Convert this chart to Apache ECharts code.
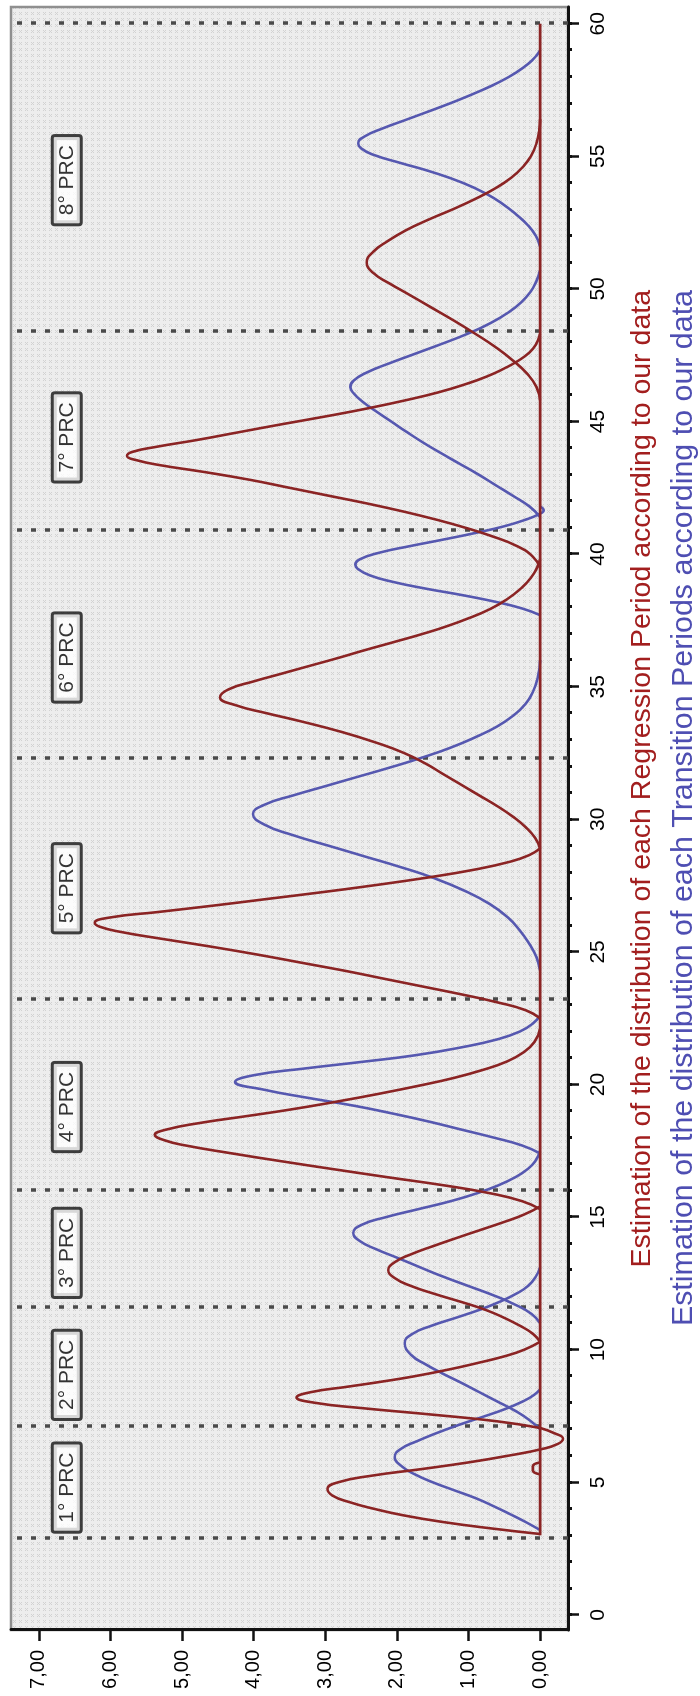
<!DOCTYPE html>
<html><head><meta charset="utf-8">
<script src="https://cdn.jsdelivr.net/npm/echarts@6/dist/echarts.min.js"></script>
<style>
html,body{margin:0;padding:0;background:#fff;width:700px;height:1696px;overflow:hidden}
#wrap{position:absolute;left:0;top:1696px;width:1696px;height:700px;transform-origin:0 0;transform:rotate(-90deg)}
#chart{width:1696px;height:700px}
</style></head><body>
<div id="wrap"><div id="chart"></div></div>
<script>
// ---- tick labels ----
const tMajorTicks = [0,5,10,15,20,25,30,35,40,45,50,55,60];
const tMinorTicks = [0,1,2,3,4,5,6,7,8,9,10,11,12,13,14,15,16,17,18,19,20,21,22,23,24,25,26,27,28,29,30,31,32,33,34,35,36,37,38,39,40,41,42,43,44,45,46,47,48,49,50,51,52,53,54,55,56,57,58,59,60];
const valueTicks = [0,1,2,3,4,5,6,7];

// ---- period boundaries (dotted lines) and labels ----
const periodBounds = [2.9, 7.1, 11.6, 16.0, 23.2, 32.3, 40.9, 48.4, 60];
const prcLabels = ['1° PRC','2° PRC','3° PRC','4° PRC','5° PRC','6° PRC','7° PRC','8° PRC'];
const prcCenters = [4.8, 9.05, 13.65, 19.15, 27.4, 36.1, 44.4, 54.1];

// ---- legend texts ----
const legendRegression = 'Estimation of the distribution of each Regression Period according to our data';
const legendTransition = 'Estimation of the distribution of each Transition Periods according to our data';

// ---- Regression period densities [t, value] ----
const regression1 = [[3.05,0],[3.25,0.65],[3.5,1.35],[3.75,1.9],[4.0,2.32],[4.25,2.66],[4.5,2.9],[4.75,2.97],[5.0,2.82],[5.25,2.35],[5.5,1.65],[5.75,1.0],[6.0,0.45],[6.25,-0.02],[6.45,-0.25],[6.65,-0.32],[6.85,-0.2],[7.05,0]];
const regression1Wiggle = [[5.3,0],[5.45,0.1],[5.6,0.1],[5.75,0]];
const regression2 = [[7.05,0],[7.3,0.6],[7.55,1.5],[7.8,2.5],[8.0,3.15],[8.2,3.4],[8.4,3.2],[8.6,2.7],[8.8,2.2],[9.0,1.75],[9.25,1.28],[9.5,0.87],[9.75,0.5],[10.0,0.22],[10.3,0]];
const regression3 = [[10.3,0],[10.6,0.1],[10.9,0.28],[11.2,0.5],[11.5,0.76],[11.8,1.1],[12.1,1.47],[12.4,1.8],[12.7,2.03],[13.0,2.12],[13.3,2.03],[13.6,1.8],[13.9,1.5],[14.2,1.18],[14.5,0.85],[14.8,0.52],[15.1,0.22],[15.4,0]];
const regression4 = [[15.3,0],[15.6,0.25],[15.9,0.7],[16.2,1.35],[16.5,2.12],[16.8,2.87],[17.1,3.6],[17.4,4.3],[17.7,4.95],[17.9,5.25],[18.1,5.38],[18.3,5.22],[18.55,4.75],[18.8,4.12],[19.05,3.5],[19.35,2.85],[19.65,2.25],[19.95,1.7],[20.25,1.2],[20.55,0.8],[20.85,0.48],[21.2,0.24],[21.6,0.08],[22.1,0]];
const regression5 = [[22.5,0],[22.8,0.2],[23.1,0.6],[23.4,1.1],[23.7,1.65],[24.0,2.2],[24.3,2.75],[24.6,3.35],[24.9,3.95],[25.2,4.6],[25.5,5.3],[25.75,5.85],[25.95,6.15],[26.1,6.22],[26.3,6.0],[26.5,5.35],[26.75,4.55],[27.0,3.8],[27.25,3.05],[27.5,2.35],[27.8,1.58],[28.1,0.92],[28.4,0.42],[28.65,0.15],[28.9,0]];
const regression6 = [[28.9,0],[29.3,0.07],[29.7,0.2],[30.1,0.38],[30.5,0.6],[30.9,0.85],[31.3,1.1],[31.7,1.35],[32.1,1.6],[32.5,1.9],[32.9,2.3],[33.3,2.78],[33.7,3.35],[34.0,3.82],[34.3,4.25],[34.6,4.47],[34.9,4.35],[35.2,4.0],[35.5,3.6],[35.8,3.2],[36.1,2.8],[36.4,2.42],[36.7,2.02],[37.0,1.63],[37.3,1.28],[37.6,0.98],[37.9,0.72],[38.3,0.46],[38.7,0.27],[39.1,0.13],[39.5,0.04],[39.8,0]];
const regression7 = [[39.5,0],[39.9,0.1],[40.3,0.32],[40.7,0.7],[41.0,1.05],[41.3,1.45],[41.6,1.9],[41.9,2.4],[42.2,2.95],[42.5,3.5],[42.8,4.05],[43.1,4.7],[43.35,5.3],[43.55,5.65],[43.7,5.77],[43.85,5.7],[44.05,5.35],[44.3,4.8],[44.6,4.2],[44.9,3.6],[45.2,2.98],[45.5,2.4],[45.8,1.88],[46.1,1.42],[46.4,1.05],[46.7,0.74],[47.0,0.5],[47.3,0.3],[47.6,0.15],[47.9,0.06],[48.3,0]];
const regression8 = [[45.8,0],[46.3,0.05],[46.8,0.18],[47.3,0.38],[47.8,0.62],[48.3,0.9],[48.8,1.2],[49.3,1.52],[49.8,1.84],[50.2,2.1],[50.6,2.33],[51.0,2.42],[51.4,2.33],[51.8,2.13],[52.2,1.88],[52.6,1.57],[53.0,1.22],[53.4,0.9],[53.8,0.62],[54.2,0.4],[54.6,0.24],[55.0,0.13],[55.5,0.05],[56.0,0.01],[56.4,0]];
const regressionBaseline = [[3.0,0],[60,0]];

// ---- Transition period densities [t, value] ----
const transition1 = [[3.2,0],[3.5,0.2],[3.8,0.42],[4.1,0.65],[4.4,0.9],[4.7,1.2],[5.0,1.5],[5.3,1.75],[5.6,1.93],[5.95,2.03],[6.25,1.95],[6.55,1.72],[6.85,1.45],[7.15,1.15],[7.45,0.82],[7.75,0.5],[8.05,0.24],[8.3,0.08],[8.5,0]];
const transition2 = [[7.0,0],[7.35,0.15],[7.7,0.35],[8.05,0.6],[8.4,0.85],[8.75,1.1],[9.1,1.36],[9.45,1.6],[9.8,1.8],[10.25,1.89],[10.6,1.78],[10.9,1.52],[11.2,1.18],[11.5,0.85],[11.8,0.57],[12.1,0.34],[12.4,0.17],[12.75,0.06],[13.1,0]];
const transition3 = [[11.0,0],[11.35,0.12],[11.7,0.35],[12.05,0.65],[12.4,1.0],[12.75,1.35],[13.1,1.67],[13.45,1.98],[13.8,2.3],[14.1,2.52],[14.4,2.61],[14.7,2.5],[15.0,2.15],[15.3,1.7],[15.6,1.25],[15.9,0.88],[16.2,0.58],[16.5,0.35],[16.8,0.18],[17.1,0.07],[17.5,0]];
const transition4 = [[17.4,0],[17.7,0.25],[18.0,0.65],[18.3,1.1],[18.6,1.55],[18.9,2.05],[19.2,2.6],[19.5,3.25],[19.8,3.85],[20.1,4.26],[20.35,4.0],[20.6,3.3],[20.85,2.5],[21.1,1.75],[21.4,1.1],[21.7,0.6],[22.0,0.28],[22.3,0.1],[22.6,0]];
const transition5 = [[24.3,0],[24.8,0.05],[25.3,0.15],[25.8,0.28],[26.3,0.45],[26.8,0.7],[27.3,1.05],[27.8,1.5],[28.2,1.95],[28.6,2.45],[29.0,2.95],[29.4,3.45],[29.8,3.85],[30.2,4.01],[30.55,3.85],[30.9,3.45],[31.25,3.0],[31.6,2.55],[31.95,2.1],[32.3,1.68],[32.7,1.25],[33.1,0.9],[33.5,0.6],[33.9,0.38],[34.3,0.22],[34.8,0.1],[35.4,0.03],[36.0,0]];
const transition6 = [[37.7,0],[37.95,0.25],[38.2,0.62],[38.45,1.08],[38.7,1.6],[38.95,2.05],[39.2,2.38],[39.45,2.55],[39.6,2.58],[39.8,2.52],[40.05,2.25],[40.3,1.82],[40.55,1.35],[40.8,0.9],[41.05,0.5],[41.3,0.2],[41.5,0.02],[41.65,-0.05],[41.8,0]];
const transition7 = [[41.4,0],[41.8,0.15],[42.2,0.38],[42.6,0.62],[43.0,0.86],[43.4,1.12],[43.8,1.38],[44.2,1.63],[44.6,1.86],[45.0,2.08],[45.4,2.3],[45.75,2.48],[46.05,2.6],[46.3,2.65],[46.55,2.6],[46.85,2.42],[47.2,2.1],[47.55,1.75],[47.9,1.4],[48.3,1.02],[48.7,0.7],[49.1,0.45],[49.5,0.26],[49.9,0.13],[50.3,0.05],[50.7,0]];
const transition8 = [[51.6,0],[52.0,0.06],[52.4,0.17],[52.8,0.33],[53.2,0.52],[53.6,0.76],[54.0,1.08],[54.4,1.5],[54.75,1.95],[55.05,2.32],[55.3,2.5],[55.5,2.54],[55.75,2.45],[56.05,2.2],[56.4,1.85],[56.75,1.5],[57.1,1.16],[57.45,0.85],[57.8,0.57],[58.15,0.34],[58.5,0.16],[58.8,0.05],[59.0,0]];

const regressionCurves = [regression1, regression1Wiggle, regression2, regression3, regression4, regression5, regression6, regression7, regression8];
const transitionCurves = [transition1, transition2, transition3, transition4, transition5, transition6, transition7, transition8];

// ---- styles ----
const RED = '#8b2424', BLUE = '#5658b0';
const FONT = '"Liberation Sans", Arial, sans-serif';
const LABEL_LEVEL = 6.61;

const pc = document.createElement('canvas'); pc.width = 6; pc.height = 6;
const g = pc.getContext('2d');
g.fillStyle = '#ededed'; g.fillRect(0, 0, 6, 6);
g.fillStyle = '#d2d2d2';
[[1,1],[3,1],[2,2],[1,3],[3,3]].forEach(p => g.fillRect(p[0], p[1], 1, 1));

const chart = echarts.init(document.getElementById('chart'), null, {renderer: 'canvas'});
const series = [];
transitionCurves.forEach(d => series.push({
  type: 'line', data: d, smooth: 0.5, showSymbol: false, silent: true,
  lineStyle: {color: BLUE, width: 2.6}, z: 3
}));
series.push({
  type: 'line', data: regressionBaseline, showSymbol: false, silent: true,
  lineStyle: {color: RED, width: 2.6}, z: 4,
  markLine: {
    silent: true, symbol: ['none','none'], label: {show: false},
    lineStyle: {color: '#4a4a4a', type: [5, 9], width: 3.5},
    data: periodBounds.map(v => ({xAxis: v})), z: 2
  }
});
regressionCurves.forEach(d => series.push({
  type: 'line', data: d, smooth: 0.5, showSymbol: false, silent: true,
  lineStyle: {color: RED, width: 2.6}, z: 4
}));
series.push({
  type: 'scatter', symbolSize: 0, silent: true, z: 6,
  data: prcCenters.map((t, i) => ({value: [t, LABEL_LEVEL], name: prcLabels[i]})),
  label: {
    show: true, position: 'inside', formatter: p => p.name,
    color: '#000', fontSize: 21, fontFamily: FONT,
    backgroundColor: '#fff', borderColor: '#111', borderWidth: 3,
    padding: [3, 8, 2, 8], borderRadius: 1
  }
});

const option = {
  animation: false,
  backgroundColor: '#fff',
  title: [
    {text: legendRegression, right: 290, top: 628, padding: 0,
     textStyle: {color: '#a21e1e', fontSize: 28.5, fontWeight: 'normal', fontFamily: FONT}},
    {text: legendTransition, right: 290, top: 669, padding: 0,
     textStyle: {color: '#4e4eb2', fontSize: 30.4, fontWeight: 'normal', fontFamily: FONT}}
  ],
  grid: {left: 66, right: 7, top: 11, bottom: 132, show: true,
         borderColor: '#8f8f8f', borderWidth: 2.5,
         backgroundColor: {image: pc, repeat: 'repeat'}},
  xAxis: [
    {type: 'value', min: -0.57, max: 60.63, position: 'bottom',
     axisLine: {show: true, onZero: false, lineStyle: {color: '#111', width: 3}},
     axisTick: {show: true, customValues: tMajorTicks, length: 11, lineStyle: {color: '#111', width: 2.5}},
     axisLabel: {show: true, customValues: tMajorTicks, margin: 20, color: '#000', fontSize: 21, fontFamily: FONT},
     splitLine: {show: false}},
    {type: 'value', min: -0.57, max: 60.63, position: 'bottom',
     axisLine: {show: false, onZero: false},
     axisTick: {show: true, customValues: tMinorTicks, length: 4, lineStyle: {color: '#111', width: 3}},
     axisLabel: {show: false},
     splitLine: {show: false}}
  ],
  yAxis: {type: 'value', min: -0.39, max: 7.39, position: 'left',
     axisLine: {show: true, onZero: false, lineStyle: {color: '#111', width: 3}},
     axisTick: {show: true, customValues: valueTicks, length: 11, lineStyle: {color: '#111', width: 2.5}},
     axisLabel: {show: true, customValues: valueTicks, margin: 20, color: '#000', fontSize: 20, fontFamily: FONT,
                 formatter: v => v.toFixed(2).replace('.', ',')},
     splitLine: {show: false}},
  series: series
};
chart.setOption(option);
</script>
</body></html>
